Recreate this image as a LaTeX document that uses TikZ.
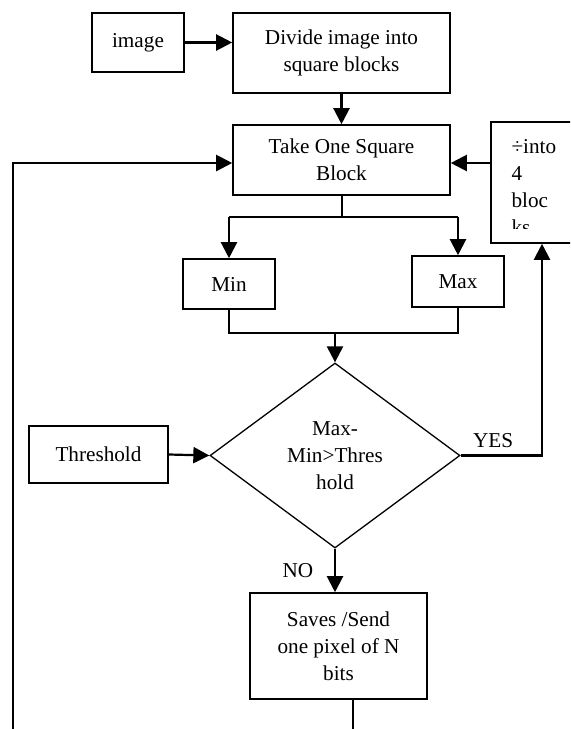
\documentclass[tikz,border=0pt]{standalone}
\usepackage{fontspec}
\setmainfont{Liberation Serif}
\usetikzlibrary{arrows.meta,shapes.geometric,positioning}

\begin{document}
\begin{tikzpicture}[x=0.5pt,y=-0.5pt,
		every node/.style={font=\fontsize{10.6}{13.5}\selectfont},
		box/.style={draw,line width=0.8pt,align=center,inner sep=2pt},
		arr/.style={line width=1.1pt,-{Triangle[length=8pt,width=8pt]}},
		ln/.style={line width=1pt}]
			\clip (0,0) rectangle (570,729);
			\node[box,minimum width=46pt,minimum height=29.5pt] (img) at (138,42.5) {image};
			\node[box,minimum width=108.5pt,minimum height=40pt] (divide) at (341.5,53) {Divide image into\\square blocks};
			\node[box,minimum width=108.5pt,minimum height=35pt] (take) at (341.5,160) {Take One Square\\Block};
			\node[box,minimum width=51pt,minimum height=60.5pt] (quad) at (542,182.5) {};
			\node[box,minimum width=46pt,minimum height=25pt] (minb) at (229,284) {Min};
			\node[box,minimum width=46pt,minimum height=25.5pt] (maxb) at (458,281.5) {Max};
			\node[draw,diamond,line width=0.65pt,minimum width=125pt,minimum height=92.5pt,inner sep=0pt,align=center] (test) at (335,455.5) {Max-\\Min>Thres\\hold};
			\node[box,minimum width=69.5pt,minimum height=28.5pt] (thr) at (98.5,454.5) {Threshold};
			\node[box,minimum width=88.5pt,minimum height=53pt] (save) at (338.5,646) {Saves /Send\\one pixel of N\\bits};
			\begin{scope}
				\clip (quad.north west) rectangle ([yshift=7.5pt]quad.south east);
				\node[anchor=north west,align=left,inner sep=0pt] (quadtext) at ([xshift=10.5pt,yshift=-9pt]quad.north west) {÷into\\4\\bloc\\ks};
			\end{scope}
			\coordinate (tin) at ([yshift=-1.5pt]take.east);
			\coordinate (tout) at ([yshift=-1.5pt]take.west);
			\draw[arr] (img.east) -- (img.east -| divide.west);
			\draw[arr] (divide.south) -- (take.north);
			\draw[arr] (quad.west |- tin) -- (tin);
			\draw[ln] (take.south) -- ++(0,21) coordinate (fork);
			\draw[ln] (minb.north |- fork) -- (maxb.north |- fork);
			\draw[arr] (minb.north |- fork) -- (minb.north);
			\draw[arr] (maxb.north |- fork) -- (maxb.north);
			\draw[ln] (minb.south) -- ++(0,23) coordinate (join) -- (join -| maxb.south) -- (maxb.south);
			\draw[arr] (join -| test.north) -- (test.north);
			\draw[arr] (thr.east) -- (test.west);
			\draw[arr] (test.east) -- node[above,pos=0.4] (yes) {YES} (test.east -| quad.south) -- (quad.south);
			\draw[arr] (test.south) -- node[left=7pt] (no) {NO} (test.south |- save.north);
			\coordinate (out) at (353,735);
			\draw[ln] (save.south -| out) -- (out);
			\coordinate (back) at (13,735);
			\draw[arr] (back) |- (tout);
		\end{tikzpicture}
\end{document}
